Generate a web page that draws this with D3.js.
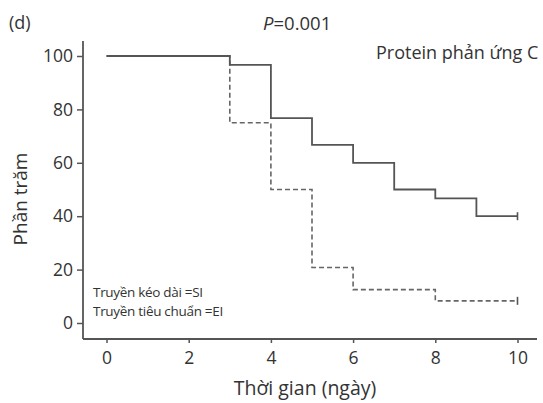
<!DOCTYPE html>
<html><head><meta charset="utf-8">
<script src="https://cdn.jsdelivr.net/npm/d3@7"></script>
<style>body{margin:0;background:#fff}svg{display:block}text{font-family:"Open Sans",sans-serif;fill:#333}</style>
</head><body>
<script>
const timesSI = [0,3,4,5,6,7,8,9,10];
const valuesSI = [100,96.7,76.7,66.7,60,50,46.7,40,40];
const timesEI = [0,3,4,5,6,8,10];
const valuesEI = [100,75,50,20.8,12.5,8.3,8.3];
const xTicks = [0,2,4,6,8,10];
const yTicks = [0,20,40,60,80,100];

const W=543,H=403;
const svg=d3.select("body").append("svg").attr("width",W).attr("height",H);
const x=d3.scaleLinear().domain([0,10]).range([106.5,517.5]);
const y=d3.scaleLinear().domain([0,100]).range([323,56]);
const col="#555";
const ff="'Open Sans',sans-serif";

// axes
const xa=svg.append("g").attr("transform","translate(0,339)")
  .call(d3.axisBottom(x).tickValues(xTicks).tickSize(4).tickPadding(9).tickSizeOuter(0));
xa.select(".domain").attr("d","M83,0H537");
const ya=svg.append("g").attr("transform","translate(83,0)")
  .call(d3.axisLeft(y).tickValues(yTicks).tickSize(6).tickPadding(4).tickSizeOuter(0));
ya.select(".domain").attr("d","M0,41V339");
svg.selectAll(".domain").attr("stroke",col).attr("stroke-width",1.8);
svg.selectAll(".tick line").attr("stroke",col).attr("stroke-width",1.5);
svg.selectAll(".tick text").attr("font-size",17.5).attr("fill","#333").style("font-family",ff);

const line=d3.line().x(d=>x(d[0])).y(d=>y(d[1])).curve(d3.curveStepAfter);
const dSI=timesSI.map((t,i)=>[t,valuesSI[i]]);
const dEI=timesEI.map((t,i)=>[t,valuesEI[i]]);
svg.append("path").attr("d",line(dEI)).attr("fill","none").attr("stroke","#666").attr("stroke-width",1.6).attr("stroke-dasharray","5,3");
svg.append("path").attr("d",line(dSI)).attr("fill","none").attr("stroke",col).attr("stroke-width",1.8);
// censor marks
[[10,valuesSI[valuesSI.length-1]],[10,valuesEI[valuesEI.length-1]]].forEach(p=>{
  svg.append("line").attr("x1",x(p[0])).attr("x2",x(p[0])).attr("y1",y(p[1])-4).attr("y2",y(p[1])+4).attr("stroke",col).attr("stroke-width",1.6);
});

// texts
svg.append("text").attr("x",9).attr("y",29).attr("font-size",18).text("(d)");
const t=svg.append("text").attr("x",263).attr("y",30).attr("font-size",18.5);
t.append("tspan").attr("font-style","italic").text("P");
t.append("tspan").text("=0.001");
svg.append("text").attr("x",376).attr("y",59).attr("font-size",18).text("Protein phản ứng C");
svg.append("text").attr("x",93).attr("y",297).attr("font-size",13.5).attr("letter-spacing",-0.3).text("Truyền kéo dài =SI");
svg.append("text").attr("x",93).attr("y",316).attr("font-size",13.5).attr("letter-spacing",-0.3).text("Truyền tiêu chuẩn =EI");
svg.append("text").attr("x",305).attr("y",395).attr("text-anchor","middle").attr("font-size",19.5).text("Thời gian (ngày)");
svg.append("text").attr("transform","translate(27,199) rotate(-90)").attr("text-anchor","middle").attr("font-size",19).text("Phần trăm");
</script>
</body></html>
